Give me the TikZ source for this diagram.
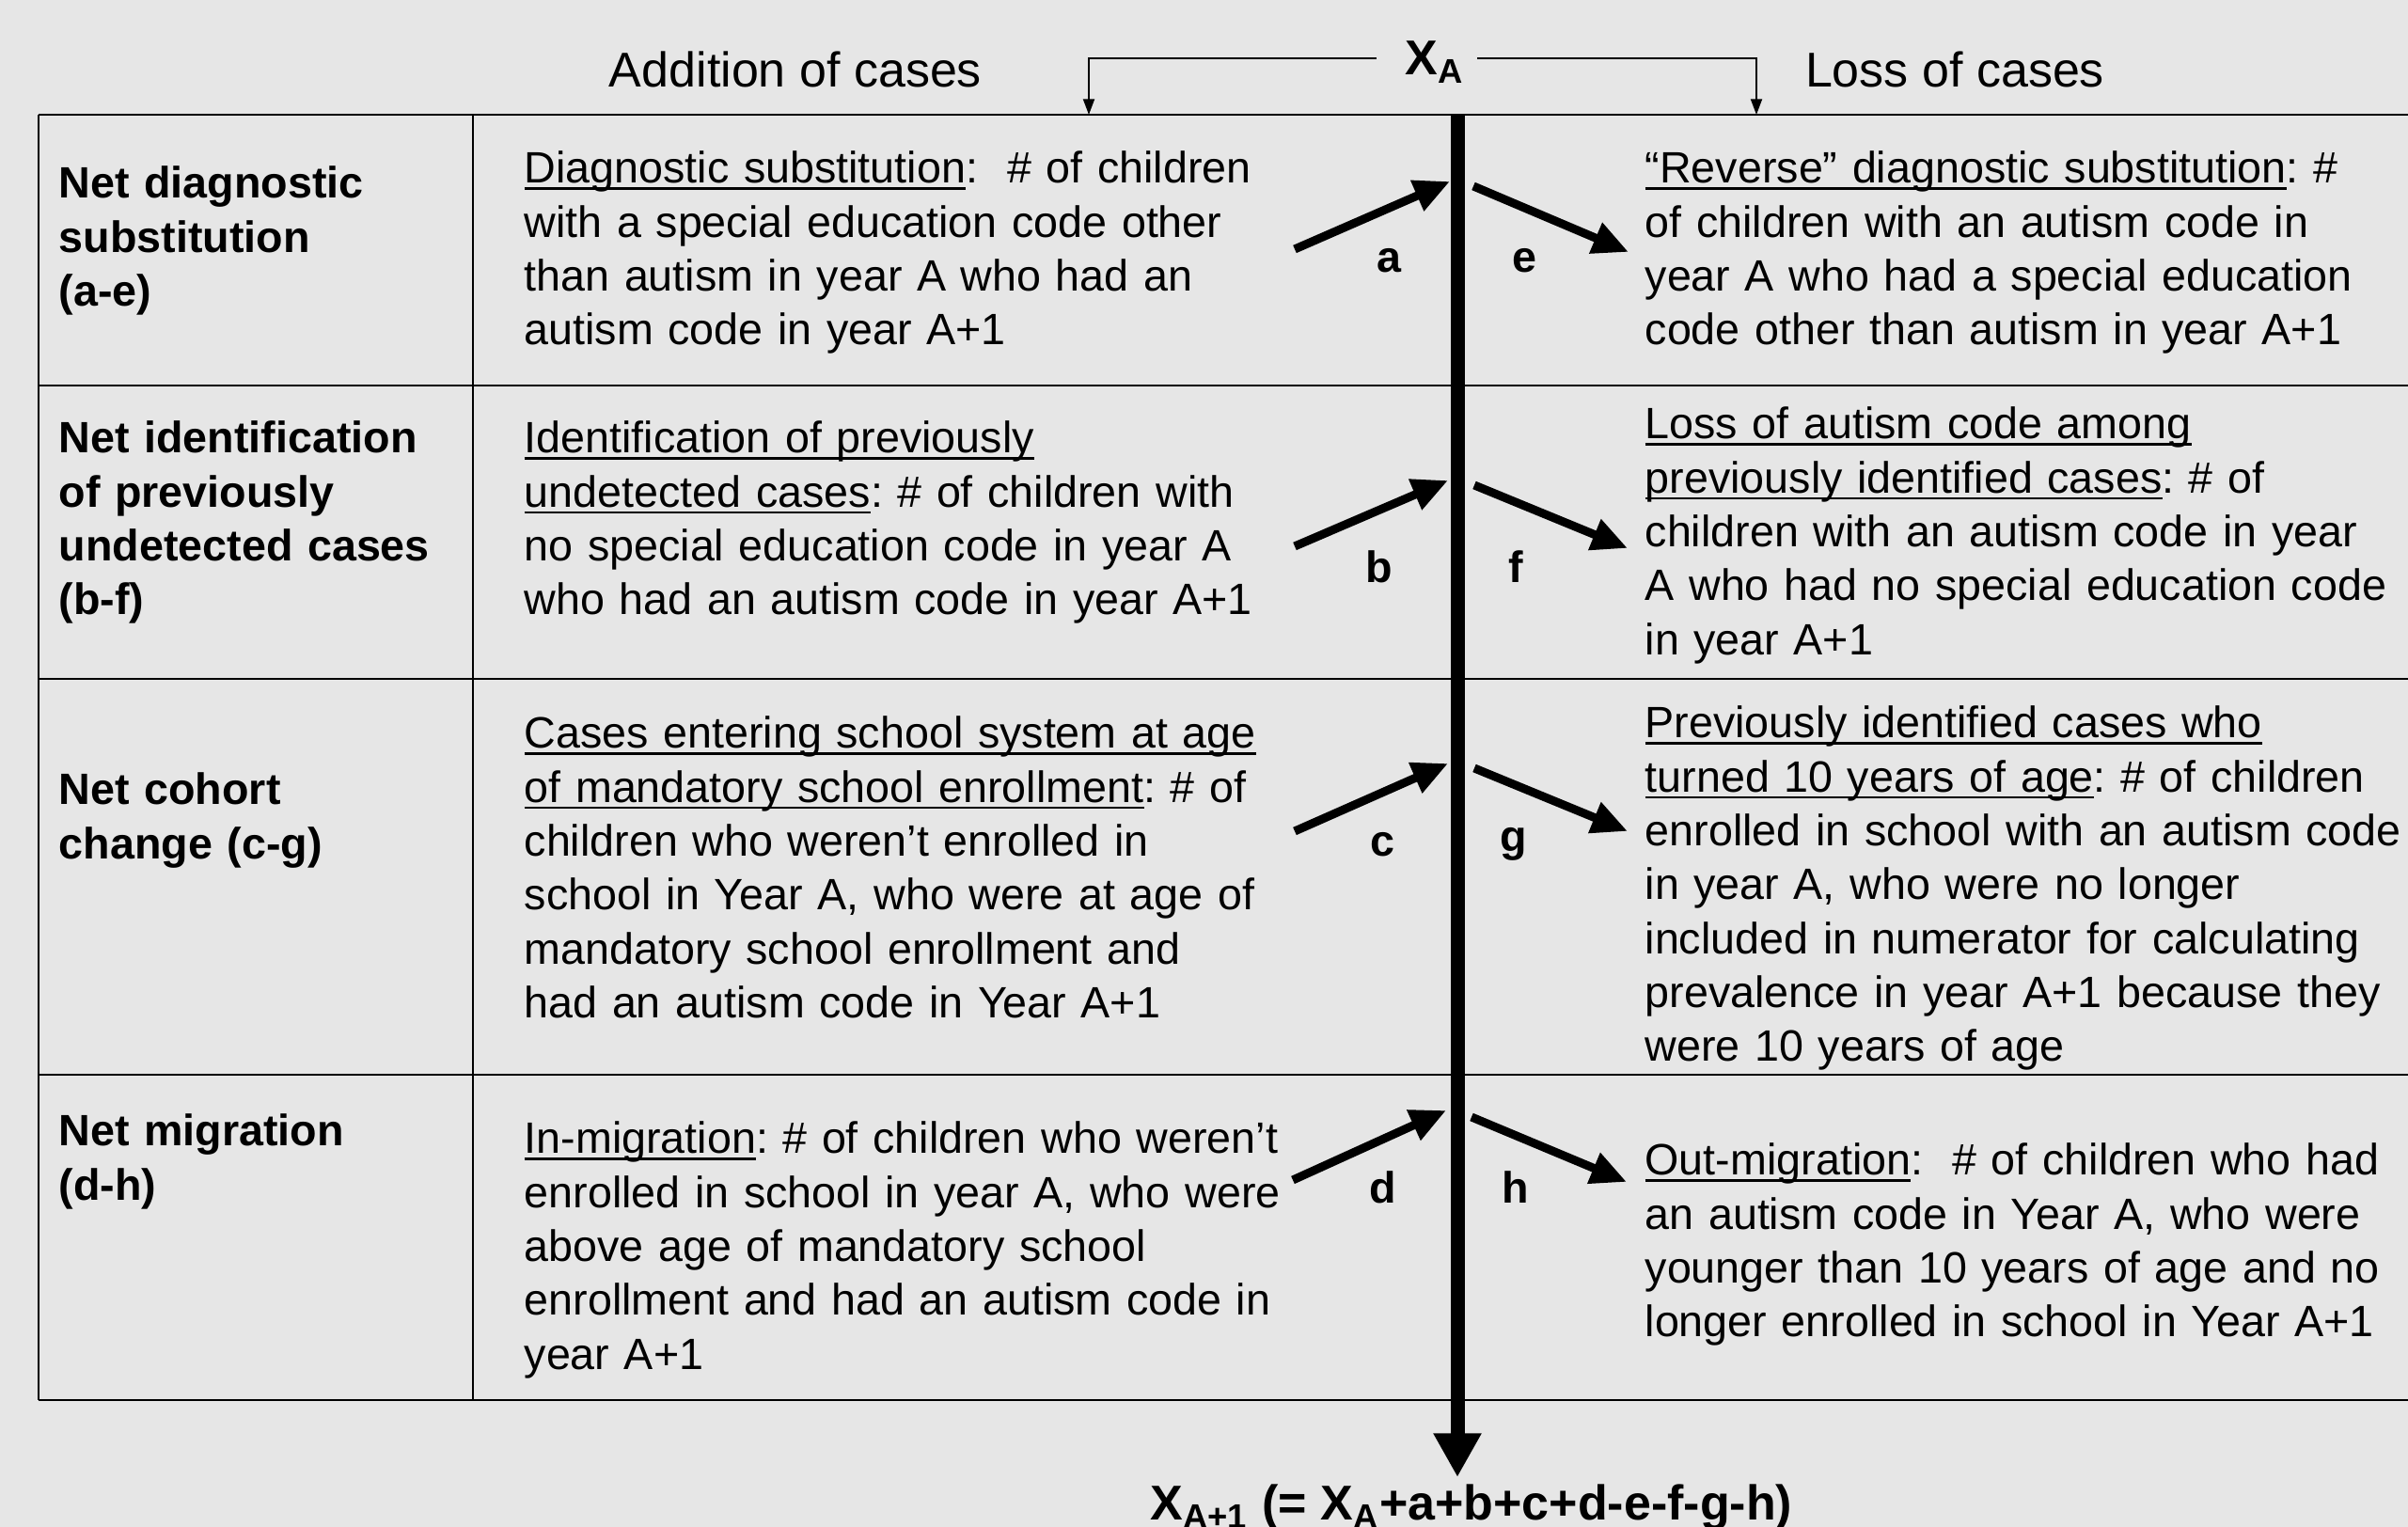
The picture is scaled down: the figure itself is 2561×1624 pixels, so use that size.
\documentclass[tikz,border=0pt]{standalone}
\usepackage{fontspec}
\setmainfont{Liberation Sans}
\usetikzlibrary{arrows.meta}
\frenchspacing
\newcommand{\uln}[1]{\leavevmode\setbox0\hbox{#1}\rlap{\rule[-2.1pt]{\wd0}{0.75pt}}\box0}
\newcommand{\bodyfnt}{\fontsize{14.0pt}{17.2pt}\selectfont}
\newcommand{\headfnt}{\fontsize{15.6pt}{18.7pt}\selectfont}
\definecolor{bggrey}{HTML}{E6E6E6}
\tikzset{
  body/.style={anchor=base west, inner sep=0pt, text width=270pt, align=left, font=\bodyfnt},
  rowhead/.style={body, font=\bfseries\bodyfnt},
  lbl/.style={anchor=center, inner sep=0pt, font=\bfseries\bodyfnt},
  hdr/.style={anchor=base, inner sep=0pt, font=\headfnt},
  grid/.style={line width=0.75pt},
  flow/.style={line width=2.7pt, -{Triangle[length=11.4pt,width=10pt]}},
  bracket/.style={line width=0.6pt, -{Triangle[length=5pt,width=3.6pt]}},
  spine/.style={line width=4.5pt, -{Triangle[length=14pt,width=14.4pt]}}
}
\begin{document}
\begin{tikzpicture}[x=0.3pt, y=-0.3pt]
\fill[bggrey] (0,0) rectangle (2561,1624);
\useasboundingbox (0,0) rectangle (2561,1624);

% table grid
\draw[grid] (41,122) -- (2561,122);
\draw[grid] (41,410) -- (2561,410);
\draw[grid] (41,722) -- (2561,722);
\draw[grid] (41,1143) -- (2561,1143);
\draw[grid] (41,1489) -- (2561,1489);
\draw[grid] (41,122) -- (41,1489);
\draw[grid] (503,122) -- (503,1489);

% headers
\node[hdr] (addh) at (846,93) {Addition of cases};
\node[hdr] (lossh) at (2079,93) {Loss of cases};
\node[anchor=base west, inner sep=0pt, font=\headfnt\bfseries] (xa) at (1494,80) {X\textsubscript{A}};
\coordinate (bl) at (1464,62);
\coordinate (br) at (1571,62);
\coordinate (tl) at (1158,122);
\coordinate (tr) at (1868,122);
\draw[bracket] (bl) -| (tl);
\draw[bracket] (br) -| (tr);

% central spine
\coordinate (stop) at (1550,122);
\coordinate (sbot) at (1550,1571);
\draw[spine] (stop) -- (sbot);
\node[anchor=base, inner sep=0pt, font=\headfnt\bfseries] (xa1) at (1565,1617)
  {X\textsubscript{A+1} (= X\textsubscript{A}+a+b+c+d-e-f-g-h)};

% row 1
\node[rowhead] (r1h) at (62,211) {Net diagnostic\\substitution\\(a-e)};
\node[body] (r1a) at (557,195) {\uln{Diagnostic substitution}:\ \ \# of children\\with a special education code other\\than autism in year A who had an\\autism code in year A+1};
\node[body] (r1l) at (1749,195) {\uln{“Reverse” diagnostic substitution}: \#\\of children with an autism code in\\year A who had a special education\\code other than autism in year A+1};

% row 2
\node[rowhead] (r2h) at (62,482) {Net identification\\of previously\\undetected cases\\(b-f)};
\node[body] (r2a) at (557,482) {\uln{Identification of previously}\\\uln{undetected cases}: \# of children with\\no special education code in year A\\who had an autism code in year A+1};
\node[body] (r2l) at (1749,467) {\uln{Loss of autism code among}\\\uln{previously identified cases}: \# of\\children with an autism code in year\\A who had no special education code\\in year A+1};

% row 3
\node[rowhead] (r3h) at (62,856) {Net cohort\\change (c-g)};
\node[body] (r3a) at (557,796) {\uln{Cases entering school system at age}\\\uln{of mandatory school enrollment}: \# of\\children who weren’t enrolled in\\school in Year A, who were at age of\\mandatory school enrollment and\\had an autism code in Year A+1};
\node[body] (r3l) at (1749,785) {\uln{Previously identified cases who}\\\uln{turned 10 years of age}: \# of children\\enrolled in school with an autism code\\in year A, who were no longer\\included in numerator for calculating\\prevalence in year A+1 because they\\were 10 years of age};

% row 4
\node[rowhead] (r4h) at (62,1219) {Net migration\\(d-h)};
\node[body] (r4a) at (557,1227) {\uln{In-migration}: \# of children who weren’t\\enrolled in school in year A, who were\\above age of mandatory school\\enrollment and had an autism code in\\year A+1};
\node[body] (r4l) at (1749,1250) {\uln{Out-migration}:\ \ \# of children who had\\an autism code in Year A, who were\\younger than 10 years of age and no\\longer enrolled in school in Year A+1};

% arrows
\coordinate (a0) at (1377,265); \coordinate (a1) at (1542,193);
\coordinate (e0) at (1567,198); \coordinate (e1) at (1732,268);
\coordinate (b0) at (1377,581); \coordinate (b1) at (1540,511);
\coordinate (f0) at (1568,516); \coordinate (f1) at (1731,583);
\coordinate (c0) at (1377,884); \coordinate (c1) at (1540,812);
\coordinate (g0) at (1568,817); \coordinate (g1) at (1731,884);
\coordinate (d0) at (1375,1255); \coordinate (d1) at (1538,1181);
\coordinate (h0) at (1565,1188); \coordinate (h1) at (1730,1257);
\draw[flow] (a0) -- (a1);
\draw[flow] (e0) -- (e1);
\draw[flow] (b0) -- (b1);
\draw[flow] (f0) -- (f1);
\draw[flow] (c0) -- (c1);
\draw[flow] (g0) -- (g1);
\draw[flow] (d0) -- (d1);
\draw[flow] (h0) -- (h1);

% arrow labels
\node[lbl] (la) at (1477,277) {a};
\node[lbl] (le) at (1621,277) {e};
\node[lbl] (lb) at (1467,603) {b};
\node[lbl] (lf) at (1612,603) {f};
\node[lbl] (lc) at (1470,898) {c};
\node[lbl] (lg) at (1610,898) {g};
\node[lbl] (ld) at (1471,1263) {d};
\node[lbl] (lh) at (1612,1263) {h};
\end{tikzpicture}
\end{document}
